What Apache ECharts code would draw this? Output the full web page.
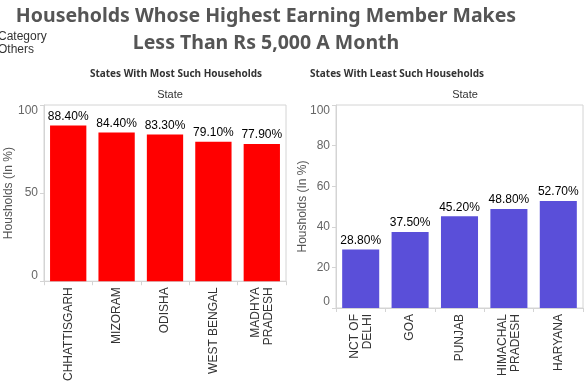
<!DOCTYPE html>
<html><head><meta charset="utf-8">
<script src="https://cdn.jsdelivr.net/npm/echarts@6/dist/echarts.min.js"></script>
<style>html,body{margin:0;padding:0;background:#fff}#c{width:584px;height:384px}</style>
</head><body><div id="c"></div>
<script>
const mostStates = ['CHHATTISGARH', 'MIZORAM', 'ODISHA', 'WEST BENGAL', 'MADHYA\nPRADESH'];
const mostValues = [88.4, 84.4, 83.3, 79.1, 77.9];
const leastStates = ['NCT OF\nDELHI', 'GOA', 'PUNJAB', 'HIMACHAL\nPRADESH', 'HARYANA'];
const leastValues = [28.8, 37.5, 45.2, 48.8, 52.7];
const mostTicks = [0, 50, 100];
const leastTicks = [0, 20, 40, 60, 80, 100];

const chart = echarts.init(document.getElementById('c'), null, {renderer: 'canvas'});
const ff = '"Liberation Sans", Arial, sans-serif';
const tf = '"Noto Sans", "DejaVu Sans", sans-serif';

function yAxis(idx, interval, gap) {
  return {
    type: 'value', gridIndex: idx, min: 0, max: 100, interval: interval,
    name: 'Housholds (In %)', nameLocation: 'middle', nameRotate: 90, nameGap: gap,
    nameMoveOverlap: false,
    nameTextStyle: {color: '#555', fontSize: 12, fontFamily: ff},
    axisLine: {show: true, lineStyle: {color: '#d4d4d4'}},
    axisTick: {show: true, length: 4, lineStyle: {color: '#d4d4d4'}},
    axisLabel: {color: '#666', fontSize: 12, fontFamily: ff, margin: 6,
      verticalAlignMinLabel: 'bottom', verticalAlignMaxLabel: 'top'},
    splitLine: {show: false}
  };
}
function xAxis(idx, cats) {
  return {
    type: 'category', gridIndex: idx, data: cats,
    axisLine: {show: true, lineStyle: {color: '#d4d4d4'}},
    axisTick: {show: true, length: 4, lineStyle: {color: '#d4d4d4'}},
    axisLabel: {rotate: 90, color: '#333', fontSize: 12, fontFamily: ff, margin: 6, lineHeight: 13, interval: 0}
  };
}
function labelFmt(p) { return p.value.toFixed(2) + '%'; }

chart.setOption({
  animation: false,
  textStyle: {fontFamily: ff},
  title: [
    {text: 'Households Whose Highest Earning Member Makes\nLess Than Rs 5,000 A Month', left: 261, top: -2, textAlign: 'center',
      textStyle: {fontFamily: tf, fontWeight: 'bold', fontSize: 19.5, color: '#555', lineHeight: 27}},
    {text: 'States With Most Such Households', left: 171, top: 64, textAlign: 'center',
      textStyle: {fontFamily: tf, fontWeight: 'bold', fontSize: 10, color: '#333'}},
    {text: 'States With Least Such Households', left: 392, top: 64, textAlign: 'center',
      textStyle: {fontFamily: tf, fontWeight: 'bold', fontSize: 10, color: '#333'}},
    {text: 'State', left: 165, top: 84, textAlign: 'center', textStyle: {fontFamily: ff, fontWeight: 'normal', fontSize: 11, color: '#333'}},
    {text: 'State', left: 460, top: 84, textAlign: 'center', textStyle: {fontFamily: ff, fontWeight: 'normal', fontSize: 11, color: '#333'}}
  ],
  graphic: [
    {type: 'text', left: -2, top: 30, style: {text: 'Category\nOthers', fontFamily: ff, fontSize: 12, lineHeight: 13, fill: '#333'}}
  ],
  grid: [
    {left: 44, top: 105, width: 242, height: 178, show: true, borderColor: '#d4d4d4', borderWidth: 1},
    {left: 336, top: 105, width: 247, height: 203, show: true, borderColor: '#d4d4d4', borderWidth: 1}
  ],
  xAxis: [xAxis(0, mostStates), xAxis(1, leastStates)],
  yAxis: [yAxis(0, 50, 29), yAxis(1, 20, 27)],
  series: [
    {type: 'bar', xAxisIndex: 0, yAxisIndex: 0, data: mostValues, barWidth: '75%',
      itemStyle: {color: '#ff0000'},
      label: {show: true, position: 'top', distance: 3, formatter: labelFmt, color: '#000', fontSize: 12, fontFamily: ff}},
    {type: 'bar', xAxisIndex: 1, yAxisIndex: 1, data: leastValues, barWidth: '75%',
      itemStyle: {color: '#5a4fd9'},
      label: {show: true, position: 'top', distance: 3, formatter: labelFmt, color: '#000', fontSize: 12, fontFamily: ff}}
  ]
});
</script>
</body></html>
